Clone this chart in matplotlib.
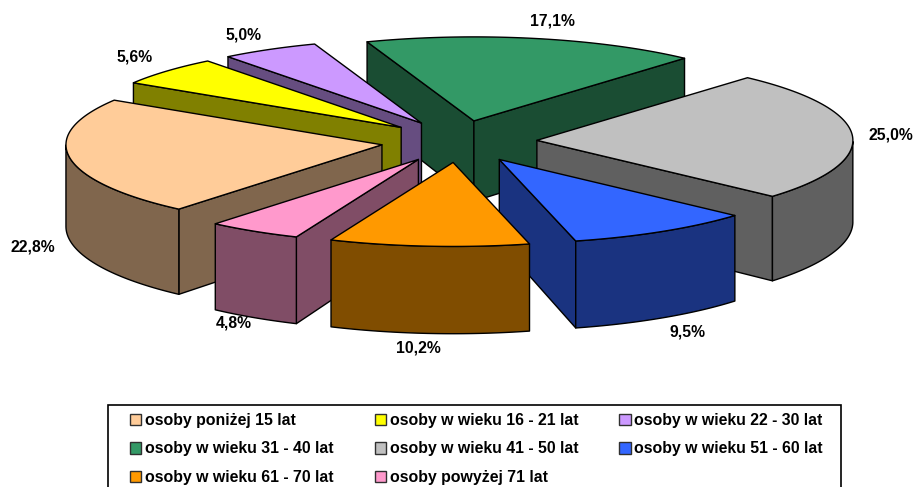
import numpy as np
import matplotlib
matplotlib.use('Agg')
import matplotlib.pyplot as plt
from matplotlib.patches import Polygon, Patch, Rectangle

plt.rcParams['font.family'] = ['Liberation Sans', 'DejaVu Sans']

# data
categories = ['osoby poniżej 15 lat', 'osoby w wieku 16 - 21 lat', 'osoby w wieku 22 - 30 lat',
              'osoby w wieku 31 - 40 lat', 'osoby w wieku 41 - 50 lat', 'osoby w wieku 51 - 60 lat',
              'osoby w wieku 61 - 70 lat', 'osoby powyżej 71 lat']
values = [22.8, 5.6, 5.0, 17.1, 25.0, 9.5, 10.2, 4.8]

top_colors = ['#FFCC99', '#FFFF00', '#CC99FF', '#339966', '#C0C0C0', '#3366FF', '#FF9900', '#FF99CC']
side_colors = ['#80664D', '#808000', '#664D80', '#1A4D33', '#606060', '#1A3380', '#804D00', '#804D66']
label_pos = [(33, 247), (135, 57), (243, 35), (552, 21), (891, 135), (688, 332), (418, 348), (234, 323)]
# legend fills column by column, the original reads across the rows
legend_order = [0, 3, 6, 1, 4, 7, 2, 5]

# pie geometry, in pixels
cx, cy = 459, 141.5
rx, ry = 316, 84
ex, ey = 78, 21   # explode distance
start = 220.0


def depth(y):
    # front of the pie is a bit taller than the back (perspective)
    return 81.5 + 0.055 * (y - cy)


def point(apex, ang, r=1.0):
    return apex[0] + r * rx * np.sin(ang), apex[1] - r * ry * np.cos(ang)


def down(pts):
    return [(x, y + depth(y)) for x, y in pts]


def face(ax, pts, color, z):
    ax.add_patch(Polygon(pts, closed=True, facecolor=color, edgecolor='black', lw=1.0,
                         joinstyle='round', zorder=z))


fig = plt.figure(figsize=(9.15, 4.87), dpi=100)
ax = fig.add_axes([0, 0, 1, 1])
ax.set_xlim(0, 915)
ax.set_ylim(487, 0)
ax.axis('off')

angles = np.radians(np.array(values) * 3.6)
starts = np.radians(start) + np.concatenate(([0], np.cumsum(angles)[:-1]))
ends = starts + angles
mids = (starts + ends) / 2

# painter's order, back slices first
order = np.argsort(-np.cos(mids))
for z, i in enumerate(order):
    a0, a1, mid = starts[i], ends[i], mids[i]
    apex = (cx + ex * np.sin(mid), cy - ey * np.cos(mid))
    base = 10 * z

    # radial walls, only if they look towards the viewer
    if np.cos(a0 - np.pi / 2) < 0:
        top = [apex, point(apex, a0)]
        face(ax, top + down(top)[::-1], side_colors[i], base)
    if np.cos(a1 + np.pi / 2) < 0:
        top = [apex, point(apex, a1)]
        face(ax, top + down(top)[::-1], side_colors[i], base + 1)

    # outer wall, front half of the circle only
    t = np.linspace(a0, a1, 80)
    t = t[np.cos(t) < 0]
    if len(t) > 1:
        top = [point(apex, a) for a in t]
        face(ax, top + down(top)[::-1], side_colors[i], base + 2)

    t = np.linspace(a0, a1, 80)
    face(ax, [apex] + [point(apex, a) for a in t], top_colors[i], base + 3)

for v, (x, y) in zip(values, label_pos):
    ax.text(x, y, f'{v:.1f}%'.replace('.', ','), ha='center', va='center',
            fontsize=11.3, fontweight='bold', color='black', zorder=200)

# frame runs off the bottom of the picture in the original
ax.add_patch(Rectangle((108, 405), 733, 100, facecolor='white', edgecolor='black', lw=1.2, zorder=250))

handles = [Patch(facecolor=top_colors[i], edgecolor='#303030', lw=1.0) for i in legend_order]
labels = [categories[i] for i in legend_order]
leg = ax.legend(handles, labels, ncol=3, loc='upper left', bbox_to_anchor=(130, 413),
                bbox_transform=ax.transData, borderaxespad=0, frameon=False,
                prop={'weight': 'bold', 'size': 11.4},
                handlelength=0.72, handleheight=0.72, handletextpad=0.22,
                columnspacing=2.6, labelspacing=0.85, borderpad=0)
leg.set_zorder(300)

fig.savefig('out.png', dpi=100)
